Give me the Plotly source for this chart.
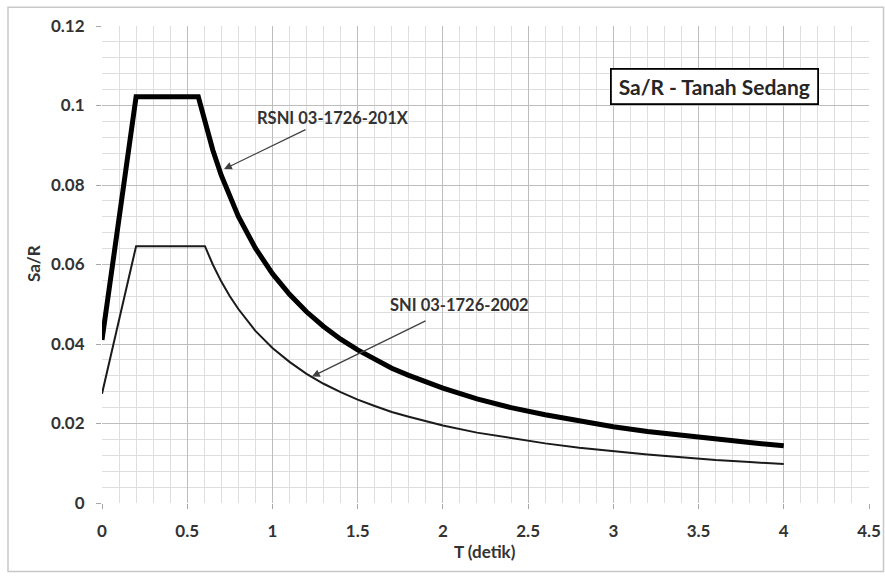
import plotly.graph_objects as go

# Data
t_rsni = [0, 0.2, 0.565, 0.6, 0.65, 0.7, 0.75, 0.8, 0.9, 1.0, 1.1, 1.2, 1.3, 1.4, 1.5,
          1.6, 1.7, 1.8, 2.0, 2.2, 2.4, 2.6, 2.8, 3.0, 3.2, 3.4, 3.6, 3.8, 4.0]
sa_rsni = [0.041, 0.1022, 0.1022, 0.0962, 0.0888, 0.0824, 0.0769, 0.0721, 0.0641, 0.0577,
           0.0525, 0.0481, 0.0444, 0.0412, 0.0385, 0.0361, 0.0339, 0.0321, 0.0289, 0.0262,
           0.0240, 0.0222, 0.0206, 0.0192, 0.0180, 0.0170, 0.0160, 0.0152, 0.0144]

t_sni = [0, 0.2, 0.604, 0.65, 0.7, 0.75, 0.8, 0.9, 1.0, 1.1, 1.2, 1.3, 1.4, 1.5, 1.6,
         1.7, 1.8, 2.0, 2.2, 2.4, 2.6, 2.8, 3.0, 3.2, 3.4, 3.6, 3.8, 4.0]
sa_sni = [0.0275, 0.0646, 0.0646, 0.0600, 0.0557, 0.0520, 0.0488, 0.0433, 0.0390, 0.0355,
          0.0325, 0.0300, 0.0279, 0.0260, 0.0244, 0.0229, 0.0217, 0.0195, 0.0177, 0.0163,
          0.0150, 0.0139, 0.0130, 0.0122, 0.0115, 0.0108, 0.0103, 0.0098]

x_ticks = [0, 0.5, 1, 1.5, 2, 2.5, 3, 3.5, 4, 4.5]
x_tick_labels = ["0", "0.5", "1", "1.5", "2", "2.5", "3", "3.5", "4", "4.5"]
y_ticks = [0, 0.02, 0.04, 0.06, 0.08, 0.1, 0.12]
y_tick_labels = ["0", "0.02", "0.04", "0.06", "0.08", "0.1", "0.12"]

label_rsni = "RSNI 03-1726-201X"
label_sni = "SNI 03-1726-2002"
box_title = "Sa/R - Tanah Sedang"
x_title = "T (detik)"
y_title = "Sa/R"

FONT = "Lato"
TXT = "#333333"

# plot area in reference pixels (used to place paper-referenced items)
PX0, PX1, PY0, PY1 = 102, 869, 503.3, 25.7
PW, PH = PX1 - PX0, PY0 - PY1


def px(xp):
    return (xp - PX0) / PW


def py(yp):
    return (PY0 - yp) / PH


fig = go.Figure()
fig.add_trace(go.Scatter(x=t_sni, y=sa_sni, mode="lines",
                         line=dict(color="#1a1a1a", width=2), name=label_sni))
fig.add_trace(go.Scatter(x=t_rsni, y=sa_rsni, mode="lines",
                         line=dict(color="#000000", width=5), name=label_rsni))

axis_common = dict(showline=False, zeroline=False, ticks="outside", ticklen=5,
                   tickcolor="#a6a6a6", gridcolor="#bdbdbd", gridwidth=1,
                   automargin=False, ticklabeloverflow="allow",
                   tickfont=dict(family=FONT, size=17, color=TXT, weight="bold"))

fig.update_xaxes(range=[0, 4.5], tickvals=x_ticks, ticktext=x_tick_labels,
                 minor=dict(dtick=0.1, showgrid=True, gridcolor="#dedede", gridwidth=1),
                 ticklabelstandoff=8, **axis_common)
fig.update_yaxes(range=[0, 0.12], tickvals=y_ticks, ticktext=y_tick_labels,
                 minor=dict(dtick=0.004, showgrid=True, gridcolor="#dedede", gridwidth=1),
                 ticklabelstandoff=8, **axis_common)

annotations = [
    # text labels
    dict(x=1.355, y=0.0968, xref="x", yref="y", text="<b>" + label_rsni + "</b>",
         showarrow=False, font=dict(family=FONT, size=16.5, color=TXT)),
    dict(x=2.10, y=0.0498, xref="x", yref="y", text="<b>" + label_sni + "</b>",
         showarrow=False, font=dict(family=FONT, size=16.5, color=TXT)),
    # arrows
    dict(x=0.716, y=0.0840, ax=1.203, ay=0.0941, xref="x", yref="y", axref="x", ayref="y",
         text="", showarrow=True, arrowhead=2, arrowsize=1.2, arrowwidth=1.3,
         arrowcolor="#404040"),
    dict(x=1.232, y=0.0318, ax=1.907, ay=0.0460, xref="x", yref="y", axref="x", ayref="y",
         text="", showarrow=True, arrowhead=2, arrowsize=1.2, arrowwidth=1.3,
         arrowcolor="#404040"),
    # boxed title
    dict(x=px(714.5), y=py(86.5), xref="paper", yref="paper",
         xanchor="center", yanchor="middle", text="<b>" + box_title + "</b>",
         showarrow=False, font=dict(family=FONT, size=21, color="#262626"),
         bgcolor="white", bordercolor="#000000", borderwidth=1.8,
         width=203, height=31),
    # axis titles
    dict(x=px(485), y=py(552), xref="paper", yref="paper",
         xanchor="center", yanchor="middle",
         text="<b>" + x_title + "</b>", showarrow=False,
         font=dict(family=FONT, size=17, color=TXT)),
    dict(x=px(33), y=py(264), xref="paper", yref="paper",
         xanchor="center", yanchor="middle",
         text="<b>" + y_title + "</b>", showarrow=False, textangle=-90,
         font=dict(family=FONT, size=17, color=TXT)),
]

fig.update_layout(
    width=885, height=576,
    margin=dict(l=PX0, r=885 - PX1, t=PY1, b=576 - PY0, autoexpand=False),
    paper_bgcolor="white", plot_bgcolor="white",
    showlegend=False,
    annotations=annotations,
    shapes=[dict(type="rect", xref="paper", yref="paper",
                 x0=px(8), x1=px(883.5),
                 y0=py(572), y1=py(7),
                 line=dict(color="#c8c8c8", width=1.5), layer="below")],
)

fig.write_html(
    "out.html",
    config={"displayModeBar": False},
    post_script=("document.body.style.margin='0';"
                 "document.body.style.overflow='hidden';"
                 "document.documentElement.style.overflow='hidden';"),
)
